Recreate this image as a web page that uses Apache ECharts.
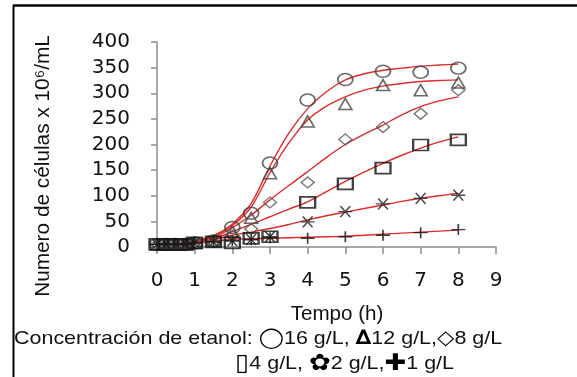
<!DOCTYPE html>
<html>
<head>
<meta charset="utf-8">
<script src="https://cdn.jsdelivr.net/npm/echarts@6/dist/echarts.min.js"></script>
<style>
html,body{margin:0;padding:0;background:#fff;}
#chart{width:577px;height:377px;}
</style>
</head>
<body>
<div id="chart"></div>
<script>
// Observed points
const xPoints = [0, 0.25, 0.5, 0.75, 1, 1.5, 2, 2.5, 3, 4, 5, 6, 7, 8];
const obs16 = [5, 5, 5, 5, 8, 12, 38, 66, 164, 287, 327, 343, 341, 349];
const obs12 = [5, 5, 5, 5, 8, 12, 30, 57, 144, 245, 279, 316, 306, 321];
const obs8  = [5, 5, 5, 5, 8, 10, 22, 35, 87, 126, 210, 234, 260, 306];
const obs4  = [5, 5, 5, 5, 8, 10, 8, 17, 20, 87, 123, 154, 199, 209];
const obs2  = [5, 5, 5, 5, 8, 10, 12, 15, 20, 49, 69, 84, 95, 101];
const obs1  = [5, 5, 5, 5, 8, 10, 12, 14, 18, 17, 20, 23, 28, 34];

// Fitted curves
const xCurve = [0, 0.5, 1, 1.5, 2, 2.5, 3, 3.5, 4, 4.5, 5, 5.5, 6, 6.5, 7, 7.5, 8];
const fit16 = [5, 7, 12, 22, 45, 85, 158, 222, 270, 303, 326, 338, 345, 349, 353, 355, 357];
const fit12 = [5, 7, 12, 21, 42, 78, 145, 203, 248, 275, 293, 306, 314, 319, 323, 325, 326];
const fit8  = [5, 6, 10, 19, 38, 62, 92, 120, 147, 175, 200, 220, 238, 258, 274, 285, 293];
const fit4  = [5, 6, 9, 16, 30, 44, 59, 74, 88, 108, 128, 146, 163, 179, 193, 205, 215];
const fit2  = [5, 6, 8, 14, 23, 29, 36, 44, 53, 61, 68, 75, 82, 89, 95, 100, 105];
const fit1  = [5, 6, 8, 11, 15, 16, 17, 18, 19, 20, 21, 23, 25, 27, 29, 31, 33];

const yTicks = [0, 50, 100, 150, 200, 250, 300, 350, 400];
const xTicks = [0, 1, 2, 3, 4, 5, 6, 7, 8, 9];

const yTitle = 'Numero de células x 10\u2076/mL';
const xTitle = 'Tempo (h)';
const legendLine1 = '{t|Concentración de etanol: }{s|\u25EF}{t|16 g/L, }{s|\u2206}{t|12 g/L,}{s|\u25C7}{t|8 g/L}';
const legendLine2 = '{b|\u25AF}{t|4 g/L, }{b|\u273F}{t|2 g/L,}{b|\u271A}{t|1 g/L}';

function pairs(xs, ys){ return xs.map((x,i)=>[x, ys[i]]); }

const FONT = '"Liberation Sans", Arial, sans-serif';
const NUMFONT = '"DejaVu Sans", sans-serif';
const RED = '#de2c2c';

const asteriskPath = 'path://M0,5L10,5M1.5,0.5L8.5,9.5M8.5,0.5L1.5,9.5';
const plusPath = 'path://M0,5L10,5M5,0L5,10';

const markers = [
  {data: obs16, symbol: 'circle', size: [15, 12], color: '#444', bw: 1.6},
  {data: obs12, symbol: 'triangle', size: [13, 11], color: '#444', bw: 1.6},
  {data: obs8, symbol: 'diamond', size: [13, 11], color: '#555', bw: 1.4},
  {data: obs4, symbol: 'rect', size: [15, 11], color: '#111', bw: 2},
  {data: obs2, symbol: asteriskPath, size: [14, 11], color: '#222', bw: 1.5},
  {data: obs1, symbol: plusPath, size: [14, 11], color: '#111', bw: 1.5}
];
const fits = [fit16, fit12, fit8, fit4, fit2, fit1];

const series = [];
fits.forEach(f => {
  series.push({
    type: 'line', data: pairs(xCurve, f), smooth: 0.3, showSymbol: false,
    lineStyle: {color: RED, width: 1.4}, z: 2, silent: true
  });
});
markers.forEach(m => {
  series.push({
    type: 'scatter', data: pairs(xPoints, m.data), symbol: m.symbol, symbolSize: m.size,
    itemStyle: {color: 'rgba(0,0,0,0)', borderColor: m.color, borderWidth: m.bw}, z: 3, silent: true
  });
});

const legendRich = {
  t: {font: '19px ' + FONT, fill: '#111'},
  s: {font: 'bold 20px "DejaVu Sans", sans-serif', fill: '#000'},
  b: {font: 'bold 23px "DejaVu Sans", sans-serif', fill: '#000'}
};

const chart = echarts.init(document.getElementById('chart'), null, {renderer: 'canvas'});
chart.setOption({
  animation: false,
  backgroundColor: '#fff',
  grid: {left: 157, right: 81, top: 42, bottom: 130, containLabel: false},
  xAxis: {
    type: 'value', min: xTicks[0], max: xTicks[xTicks.length-1], interval: 1,
    axisLine: {lineStyle: {color: '#8c8c8c', width: 1.5}},
    axisTick: {show: true, inside: false, length: 7, lineStyle: {color: '#8c8c8c', width: 1.5}},
    axisLabel: {fontFamily: NUMFONT, fontSize: 20, color: '#111', margin: 24},
    splitLine: {show: false}
  },
  yAxis: {
    type: 'value', min: yTicks[0], max: yTicks[yTicks.length-1], interval: 50,
    axisLine: {show: true, lineStyle: {color: '#8c8c8c', width: 1.5}},
    axisTick: {show: true, inside: false, length: 6, lineStyle: {color: '#8c8c8c', width: 1.5}},
    axisLabel: {fontFamily: NUMFONT, fontSize: 20, color: '#111', margin: 27},
    splitLine: {show: false}
  },
  series: series,
  graphic: [
    {type: 'line', shape: {x1: 13, y1: 5.5, x2: 577, y2: 5.5}, style: {stroke: '#000', lineWidth: 2.5}, z: 10},
    {type: 'line', shape: {x1: 13.5, y1: 5, x2: 13.5, y2: 377}, style: {stroke: '#000', lineWidth: 2}, z: 10},
    {type: 'text', x: 43, y: 166, rotation: Math.PI/2, scaleX: 1.04, style: {text: yTitle, font: '20px ' + FONT, fill: '#111', textAlign: 'center', textVerticalAlign: 'middle'}},
    {type: 'text', x: 337, y: 314, scaleX: 1.03, style: {text: xTitle, font: '20px ' + FONT, fill: '#111', textAlign: 'center', textVerticalAlign: 'middle'}},
    {type: 'text', x: 14, y: 339, scaleX: 1.13, style: {text: legendLine1, rich: legendRich, textAlign: 'left', textVerticalAlign: 'middle'}},
    {type: 'text', x: 235, y: 364, scaleX: 1.13, style: {text: legendLine2, rich: legendRich, textAlign: 'left', textVerticalAlign: 'middle'}}
  ]
});
</script>
</body>
</html>
